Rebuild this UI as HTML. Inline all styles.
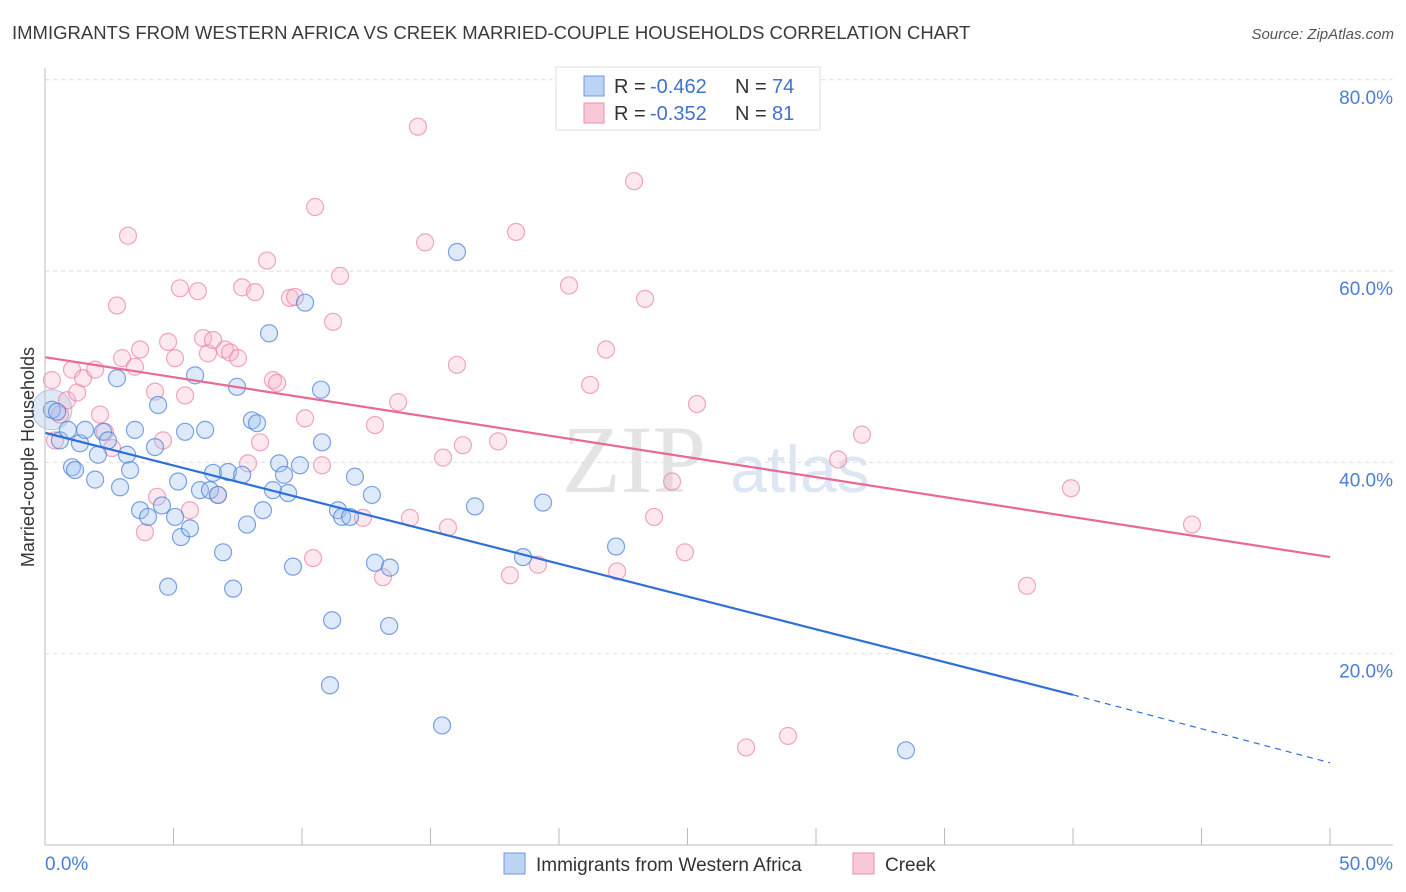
<!DOCTYPE html>
<html><head><meta charset="utf-8"><style>
body{margin:0;background:#fff;font-family:"Liberation Sans",sans-serif}
svg{display:block}
</style></head><body>
<svg id="c" width="1406" height="892">
<text x="12" y="39" font-size="18.5" fill="#3a3a3a">IMMIGRANTS FROM WESTERN AFRICA VS CREEK MARRIED-COUPLE HOUSEHOLDS CORRELATION CHART</text>
<text x="1394" y="39" font-size="15" fill="#555" text-anchor="end" font-style="italic">Source: ZipAtlas.com</text>
<text x="634" y="492" font-size="96" fill="#e4e4e4" font-family="Liberation Serif,serif" text-anchor="middle">ZIP</text>
<text x="800" y="492" font-size="66" fill="#dde6f4" text-anchor="middle">atlas</text>
<g id="grid"></g><g id="pts"></g><g id="lines"></g><g id="axes"></g>
<text transform="translate(34,457) rotate(-90)" font-size="18" fill="#333" text-anchor="middle">Married-couple Households</text>
<g>
<rect x="556" y="67" width="264" height="63" fill="#fff" stroke="#ddd"/>
<rect x="584" y="76" width="20" height="20" fill="#bcd3f5" stroke="#6b9be0"/>
<rect x="584" y="103" width="20" height="20" fill="#f9c8d6" stroke="#ec8fab"/>
<text x="614" y="93" font-size="20" fill="#333">R = </text>
<text x="650" y="93" font-size="20" fill="#3f73d0">-0.462</text>
<text x="735" y="93" font-size="20" fill="#333">N = </text>
<text x="772" y="93" font-size="20" fill="#3f73d0">74</text>
<text x="614" y="120" font-size="20" fill="#333">R = </text>
<text x="650" y="120" font-size="20" fill="#3f73d0">-0.352</text>
<text x="735" y="120" font-size="20" fill="#333">N = </text>
<text x="772" y="120" font-size="20" fill="#3f73d0">81</text>
</g>
<g>
<rect x="504" y="853" width="21" height="21" fill="#bcd3f5" stroke="#6b9be0"/>
<text x="536" y="871" font-size="19" fill="#333">Immigrants from Western Africa</text>
<rect x="853" y="853" width="21" height="21" fill="#f9c8d6" stroke="#ec8fab"/>
<text x="885" y="871" font-size="19" fill="#333">Creek</text>
</g>
</svg>
<script>
const blueX=[0.27,0.47,0.58,0.89,1.05,1.17,1.36,1.56,1.95,2.06,2.26,2.45,2.80,2.92,3.19,3.31,3.50,3.70,4.01,4.28,4.40,4.55,4.79,5.06,5.18,5.29,5.45,5.64,5.84,6.03,6.23,6.54,6.42,6.73,6.93,7.12,7.32,7.47,7.67,7.86,8.05,8.25,8.48,8.72,8.87,9.11,9.30,9.46,9.65,9.92,10.12,10.74,10.78,11.09,11.17,11.40,11.56,11.87,12.06,12.72,12.84,13.39,13.42,15.45,16.03,16.73,18.60,19.38,22.22,33.50];
const blueY=[45.5,45.3,42.3,43.4,39.5,39.2,42.0,43.4,38.2,40.8,43.2,42.3,48.8,37.4,40.8,39.2,43.4,35.0,34.3,41.6,46.0,35.5,27.0,34.3,38.0,32.2,43.2,33.1,49.1,37.1,43.4,38.9,37.1,36.6,30.6,39.0,26.8,47.9,38.7,33.5,44.4,44.1,35.0,53.5,37.1,39.9,38.7,36.8,29.1,39.7,56.7,47.6,42.1,16.7,23.5,35.0,34.3,34.3,38.5,36.6,29.5,22.9,29.0,12.5,62.0,35.4,30.1,35.8,31.2,9.9];
const pinkX=[0.27,0.39,0.58,0.86,1.05,1.25,1.48,1.95,2.14,2.33,2.61,2.80,3.00,3.23,3.50,3.70,3.89,4.28,4.36,4.59,4.79,5.06,5.25,5.45,5.64,5.95,6.15,6.34,6.54,6.73,7.00,7.20,7.51,7.67,7.90,8.17,8.37,8.64,8.87,9.03,9.53,9.73,10.12,10.51,10.43,10.78,11.21,11.48,12.37,12.84,13.15,13.74,14.20,14.51,14.79,15.49,15.68,16.03,16.26,17.63,18.09,18.33,19.18,20.39,21.21,21.83,22.26,22.92,23.35,23.70,24.40,24.90,25.37,27.28,28.91,30.86,31.79,38.21,39.92,44.63];
const pinkY=[48.6,42.3,45.0,46.5,49.7,47.3,48.8,49.7,45.0,43.2,41.5,56.4,50.9,63.7,50.0,51.8,32.7,47.4,36.4,42.3,52.6,50.9,58.2,47.0,35.0,57.9,53.0,51.4,52.8,36.6,51.8,51.5,50.9,58.3,39.9,57.8,42.1,61.1,48.6,48.3,57.2,57.3,44.6,66.7,30.0,39.7,54.7,59.5,34.2,43.9,28.0,46.3,34.2,75.1,63.0,40.5,33.2,50.2,41.8,42.2,28.2,64.1,29.3,58.5,48.1,51.8,28.6,69.4,57.1,34.3,38.0,30.6,46.1,10.2,11.4,40.3,42.9,27.1,37.3,33.5];
const blueTrend=[43.1,15.7,8.6]; // at x=0, 40, 50
const pinkTrend=[51.0,30.1];     // at x=0, 50
const yTicks=[20,40,60,80];
const xTicks=[0,5,10,15,20,25,30,35,40,45,50];
const NS="http://www.w3.org/2000/svg";
const sx=v=>45+v*25.7, sy=v=>845-v*9.565;
function mk(tag,at,parent){const e=document.createElementNS(NS,tag);for(const k in at)e.setAttribute(k,at[k]);document.getElementById(parent).appendChild(e);return e;}
yTicks.forEach(t=>{
  const l=mk('line',{x1:45,x2:1393,y1:sy(t),y2:sy(t),stroke:'#ddd','stroke-dasharray':'4,4'},'grid');
  
  
  const tx=mk('text',{x:1393,y:sy(t)+24,'font-size':19,fill:'#4a7fd4','text-anchor':'end'},'axes');
  tx.textContent=t.toFixed(1)+'%';
  
  
});
mk('line',{x1:45,x2:45,y1:68,y2:845,stroke:'#bbb'},'axes');
mk('line',{x1:45,x2:1393,y1:845,y2:845,stroke:'#bbb'},'axes');
xTicks.forEach(t=>{
  const l=mk('line',{x1:sx(t),x2:sx(t),y1:828,y2:845,stroke:'#bbb'},'axes');
  
  
});
[[0,'start',45],[50,'end',1393]].forEach(([t,a,x])=>{
  const tx=mk('text',{x:x,y:870,'font-size':19,fill:'#4a7fd4','text-anchor':a},'axes');
  tx.textContent=t.toFixed(1)+'%';
  
  
});
const big=mk('circle',{cx:sx(blueX[0]),cy:sy(blueY[0]),r:20,fill:'rgba(150,180,225,0.3)',stroke:'rgba(110,150,220,0.5)'},'pts');


pinkX.forEach((x,i)=>{
  const c=mk('circle',{cx:sx(x),cy:sy(pinkY[i]),r:8.5,fill:'rgba(246,180,200,0.3)',stroke:'rgba(236,130,165,0.7)','stroke-width':1.2},'pts');
  
  
});
blueX.forEach((x,i)=>{
  const c=mk('circle',{cx:sx(x),cy:sy(blueY[i]),r:8.5,fill:'rgba(160,195,240,0.35)',stroke:'rgba(70,125,215,0.7)','stroke-width':1.2},'pts');
  
  
});
const bl=mk('line',{x1:sx(0),y1:sy(blueTrend[0]),x2:sx(40),y2:sy(blueTrend[1]),stroke:'#2f6fd8','stroke-width':2.2},'lines');


const bd=mk('line',{x1:sx(40),y1:sy(blueTrend[1]),x2:sx(50),y2:sy(blueTrend[2]),stroke:'#2f6fd8','stroke-width':1.2,'stroke-dasharray':'6,5'},'lines');


const pl=mk('line',{x1:sx(0),y1:sy(pinkTrend[0]),x2:sx(50),y2:sy(pinkTrend[1]),stroke:'#e86a94','stroke-width':2.2},'lines');


</script>
</body></html>
